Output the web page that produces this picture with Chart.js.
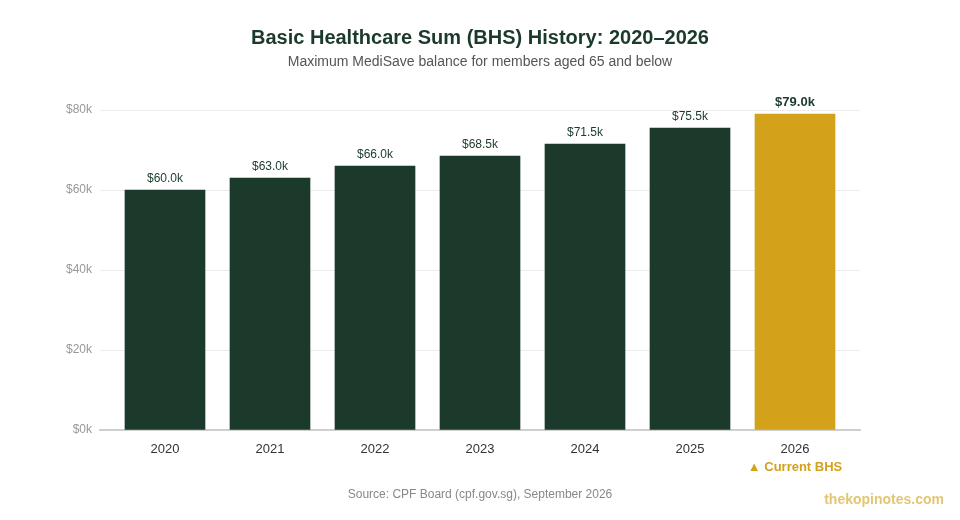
<!DOCTYPE html>
<html>
<head>
<meta charset="utf-8">
<script src="https://cdn.jsdelivr.net/npm/chart.js@4"></script>
<style>
  html, body { margin: 0; padding: 0; background: #fff; }
  #wrap { width: 960px; height: 520px; }
</style>
</head>
<body>
<div id="wrap"><canvas id="bhsChart" width="960" height="520"></canvas></div>
<script>
// BHS por ano (milhares de S$)
const anos = ['2020', '2021', '2022', '2023', '2024', '2025', '2026'];
const bhsMil = [60, 63, 66, 68.5, 71.5, 75.5, 79];
const yTicks = [0, 20, 40, 60, 80];

const VERDE = '#1b3a2b';
const OURO = '#d4a11a';
const FONTE = '"Liberation Sans", Arial, Helvetica, sans-serif';

// textos fora da área do gráfico + rótulos das barras
const textosPlugin = {
  id: 'textos',
  afterDraw(chart) {
    const ctx = chart.ctx;
    const x = chart.scales.x;
    ctx.save();
    ctx.textAlign = 'center';
    ctx.textBaseline = 'middle';

    ctx.fillStyle = VERDE;
    ctx.font = 'bold 20px ' + FONTE;
    ctx.fillText('Basic Healthcare Sum (BHS) History: 2020–2026', 480, 38);

    ctx.fillStyle = '#555';
    ctx.font = '14px ' + FONTE;
    ctx.fillText('Maximum MediSave balance for members aged 65 and below', 480, 62);

    // marcador do ano atual
    ctx.fillStyle = OURO;
    ctx.font = 'bold 13px ' + FONTE;
    ctx.fillText('▲ Current BHS', x.getPixelForValue(anos.length - 1), 467);

    ctx.fillStyle = '#888';
    ctx.font = '12px ' + FONTE;
    ctx.fillText('Source: CPF Board (cpf.gov.sg), September 2026', 480, 495);

    ctx.textAlign = 'right';
    ctx.fillStyle = 'rgba(212,161,26,0.62)';
    ctx.font = 'bold 14px ' + FONTE;
    ctx.fillText('thekopinotes.com', 944, 500);
    ctx.restore();
  },
  afterDatasetsDraw(chart) {
    const ctx = chart.ctx;
    const meta = chart.getDatasetMeta(0);
    ctx.save();
    ctx.textAlign = 'center';
    ctx.textBaseline = 'bottom';
    meta.data.forEach((bar, i) => {
      const ultimo = i === anos.length - 1;
      ctx.fillStyle = VERDE;
      ctx.font = (ultimo ? 'bold 13px ' : '12px ') + FONTE;
      ctx.fillText('$' + bhsMil[i].toFixed(1) + 'k', bar.x, bar.y - 5);
    });
    ctx.restore();
  }
};

new Chart(document.getElementById('bhsChart').getContext('2d'), {
  type: 'bar',
  data: {
    datasets: [{
      label: 'BHS',
      data: anos.map((a, i) => ({ x: i, y: bhsMil[i] })),
      backgroundColor: anos.map((a, i) => i === anos.length - 1 ? OURO : VERDE),
      barThickness: 80,
      borderWidth: 0
    }]
  },
  options: {
    responsive: false,
    animation: false,
    layout: { padding: { top: 110, left: 40, right: 100, bottom: 60 } },
    plugins: {
      legend: { display: false },
      tooltip: { enabled: false }
    },
    scales: {
      x: {
        type: 'linear',
        min: -0.619,
        max: 6.619,
        offset: false,
        afterFit(s) { s.height = 30; },
        afterBuildTicks(s) { s.ticks = anos.map((a, i) => ({ value: i })); },
        grid: { display: false, drawTicks: false },
        border: { display: true, color: '#cfcfcf', width: 2 },
        ticks: {
          padding: 12,
          color: '#333',
          font: { family: FONTE, size: 13 },
          callback: v => anos[v]
        }
      },
      y: {
        min: 0,
        max: 80,
        afterFit(s) { s.width = 60; },
        afterBuildTicks(s) { s.ticks = yTicks.map(v => ({ value: v })); },
        grid: { color: '#ececec', lineWidth: 1, drawTicks: false },
        border: { display: false },
        ticks: {
          padding: 8,
          color: '#999',
          font: { family: FONTE, size: 12 },
          callback: v => '$' + v + 'k'
        }
      }
    }
  },
  plugins: [textosPlugin]
});
</script>
</body>
</html>
